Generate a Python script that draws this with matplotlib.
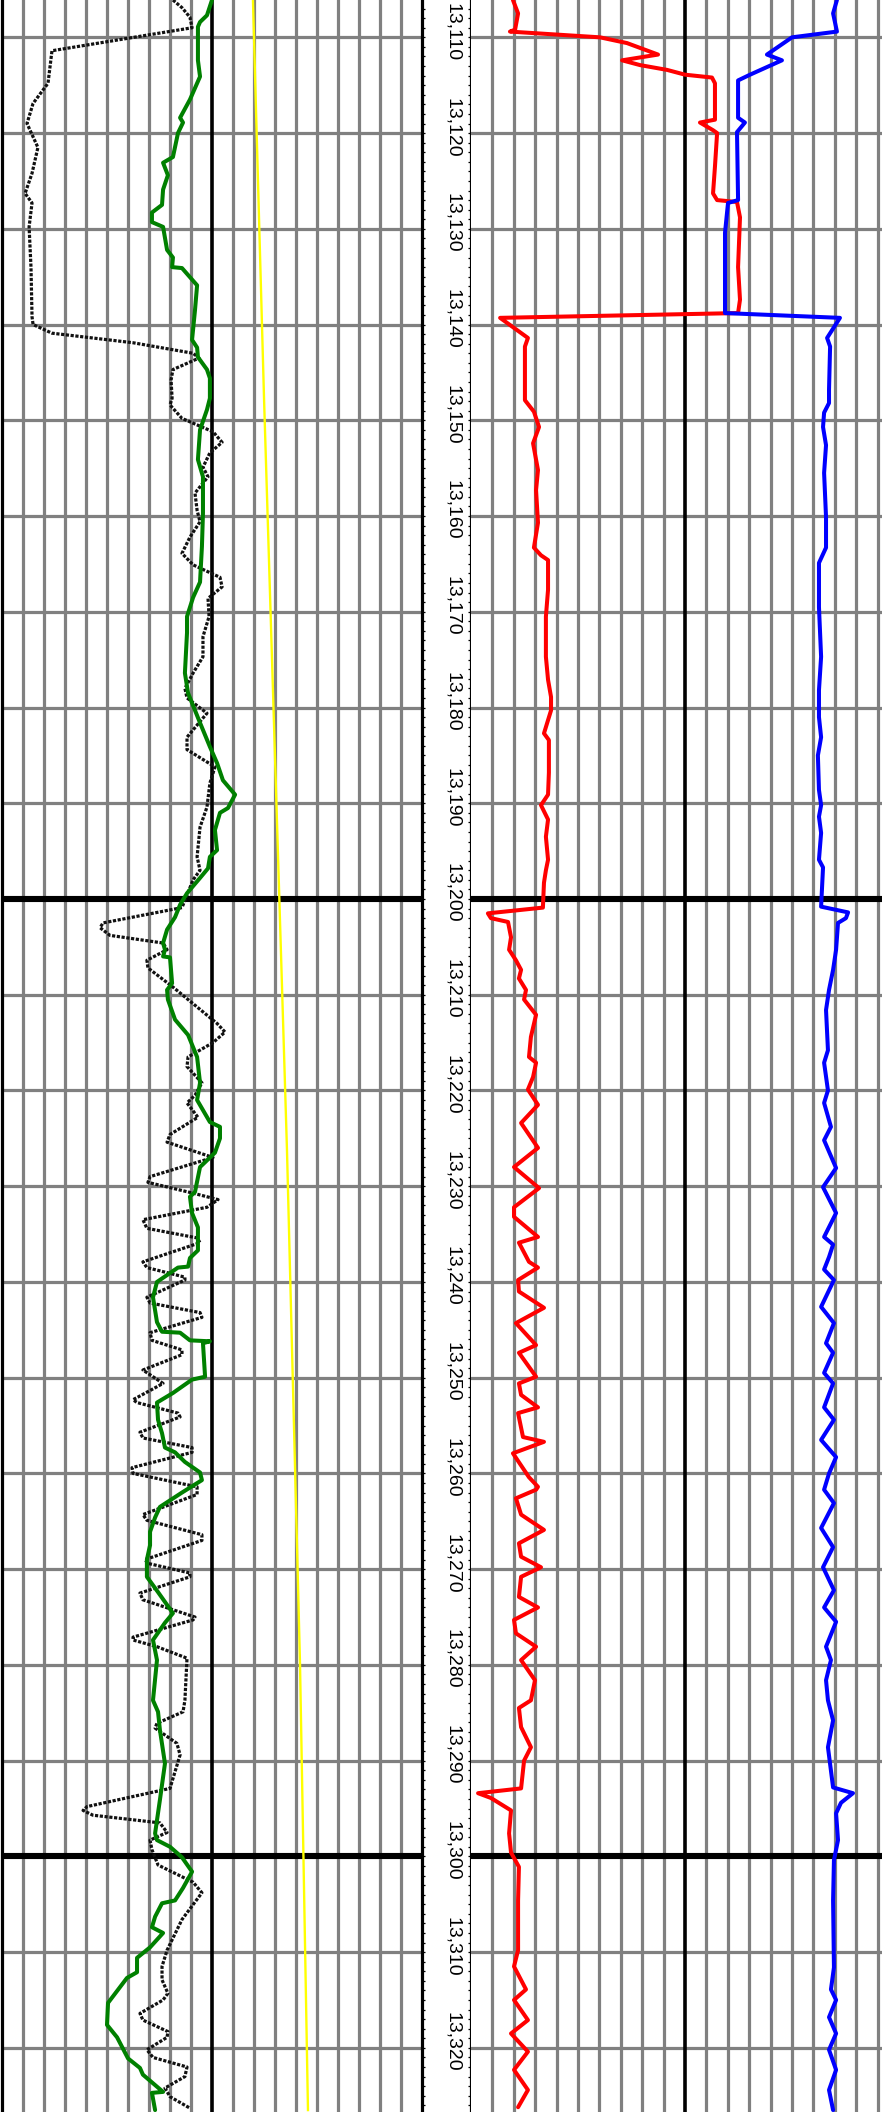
import matplotlib
matplotlib.use("Agg")
import matplotlib.pyplot as plt
from matplotlib.ticker import MultipleLocator

# --------------------------------
# 1. Log data (depth in ft, values in track units 0-200)
# --------------------------------
sp_depth = [13106.1, 13106.9, 13107.9, 13109.0, 13111.4, 13114.8, 13116.9, 13119.0, 13121.5, 13124.2,
            13126.3, 13127.3, 13129.8, 13134.0, 13139.2, 13140.0, 13140.9, 13141.9, 13143.0, 13143.5,
            13144.7, 13145.8, 13147.7, 13148.4, 13149.8, 13151.2, 13152.3, 13153.4, 13154.9, 13155.9,
            13157.6, 13159.4, 13160.6, 13162.2, 13163.9, 13165.1, 13166.4, 13167.4, 13168.6, 13170.5,
            13172.6, 13174.7, 13176.4, 13178.0, 13179.0, 13180.6, 13183.1, 13184.4, 13186.2, 13187.9,
            13190.4, 13192.5, 13195.6, 13197.0, 13198.0, 13200.9, 13202.5, 13203.0, 13203.8, 13204.6,
            13205.3, 13206.4, 13207.2, 13209.2, 13213.0, 13213.9, 13215.0, 13216.5, 13217.5, 13219.2,
            13220.5, 13221.3, 13222.8, 13224.6, 13225.4, 13227.0, 13229.0, 13229.6, 13230.7, 13231.4,
            13232.2, 13233.5, 13234.4, 13235.4, 13235.9, 13237.9, 13238.5, 13239.5, 13239.8, 13241.6,
            13242.2, 13243.2, 13243.7, 13245.3, 13246.1, 13247.1, 13247.6, 13249.2, 13250.6, 13252.3,
            13252.6, 13253.7, 13254.1, 13255.7, 13256.3, 13257.3, 13257.8, 13259.4, 13260.0, 13261.4,
            13262.2, 13264.3, 13264.9, 13266.4, 13267.0, 13269.0, 13269.4, 13270.4, 13270.8, 13272.5,
            13273.2, 13275.0, 13275.3, 13277.1, 13277.4, 13278.1, 13279.3, 13283.7, 13284.9, 13286.1,
            13286.6, 13288.2, 13289.4, 13292.9, 13294.8, 13295.2, 13295.7, 13296.5, 13297.5, 13298.3,
            13299.3, 13300.9, 13302.7, 13303.8, 13305.9, 13306.6, 13309.8, 13311.5, 13312.9, 13314.3,
            13315.0, 13316.4, 13317.1, 13318.3, 13318.9, 13320.2, 13321.0, 13322.0, 13323.0, 13324.2,
            13325.1, 13326.3]
sp_val = [81.4, 85.7, 89.5, 90.5, 23.8, 21.9, 14.8, 11.9, 17.1, 14.3,
          11.0, 14.3, 12.9, 13.8, 14.3, 14.8, 23.8, 62.4, 91.0, 93.8,
          81.4, 80.5, 81.0, 80.0, 85.7, 100.5, 104.8, 99.0, 95.7, 98.1,
          91.9, 92.9, 94.3, 89.5, 85.7, 91.0, 103.8, 104.8, 98.1, 98.6,
          95.7, 95.7, 91.0, 87.1, 88.1, 97.6, 88.1, 88.1, 101.4, 99.0,
          97.6, 94.3, 92.9, 94.3, 91.0, 85.7, 48.1, 46.7, 51.4, 76.7,
          78.6, 69.0, 69.5, 81.4, 102.4, 106.2, 100.5, 88.6, 88.1, 95.2,
          91.9, 88.1, 93.3, 80.0, 78.6, 100.5, 70.5, 69.5, 90.5, 102.9,
          97.6, 67.1, 69.0, 92.9, 94.3, 67.1, 69.0, 87.1, 87.1, 69.0,
          70.5, 94.3, 95.2, 70.5, 71.4, 85.7, 85.7, 67.1, 76.7, 62.4,
          64.3, 83.8, 84.8, 65.7, 67.1, 90.5, 90.5, 61.9, 62.4, 92.9,
          92.9, 67.1, 69.0, 95.2, 95.2, 68.1, 69.5, 89.5, 89.5, 65.7,
          67.1, 91.9, 91.0, 62.4, 62.4, 73.8, 88.1, 87.1, 86.2, 73.8,
          72.9, 83.3, 84.8, 80.0, 40.5, 38.6, 43.3, 75.2, 78.6, 70.5,
          71.4, 74.3, 91.0, 95.2, 88.1, 85.7, 78.6, 76.2, 76.2, 79.0,
          76.7, 65.7, 67.1, 79.0, 78.6, 69.0, 71.9, 88.1, 87.1, 77.6,
          80.0, 89.5]

gr_depth = [13106.1, 13107.7, 13108.4, 13108.9, 13112.4, 13114.1, 13114.8, 13116.5, 13118.4, 13118.9,
            13120.0, 13122.5, 13123.1, 13124.4, 13125.9, 13127.5, 13128.3, 13129.3, 13129.8, 13132.2,
            13133.0, 13134.0, 13134.1, 13135.9, 13138.5, 13141.6, 13142.4, 13143.4, 13144.7, 13145.6,
            13147.7, 13148.9, 13151.0, 13154.1, 13155.9, 13159.7, 13163.2, 13166.9, 13168.5, 13170.5,
            13172.2, 13176.4, 13178.5, 13181.6, 13184.1, 13185.8, 13187.6, 13189.1, 13190.5, 13191.0,
            13192.8, 13194.9, 13195.6, 13196.8, 13197.8, 13199.4, 13200.6, 13201.9, 13203.2, 13204.6,
            13205.3, 13206.0, 13206.1, 13208.8, 13209.5, 13210.5, 13212.6, 13214.2, 13216.5, 13219.2,
            13221.0, 13223.3, 13223.8, 13225.0, 13226.5, 13228.0, 13230.6, 13231.1, 13232.8, 13234.3,
            13236.7, 13237.5, 13238.4, 13238.5, 13240.0, 13241.6, 13244.2, 13245.2, 13245.3, 13246.1,
            13246.2, 13246.4, 13249.9, 13250.2, 13251.6, 13252.6, 13254.4, 13255.8, 13257.3, 13257.8,
            13258.8, 13259.9, 13260.7, 13262.0, 13263.5, 13264.6, 13266.1, 13267.5, 13269.0, 13270.8,
            13272.4, 13274.6, 13275.6, 13277.4, 13279.5, 13283.7, 13284.9, 13286.8, 13290.3, 13294.1,
            13297.6, 13298.3, 13299.0, 13300.1, 13301.6, 13303.3, 13304.6, 13304.9, 13306.3, 13307.4,
            13308.0, 13309.5, 13310.6, 13312.1, 13312.7, 13315.3, 13317.6, 13318.9, 13321.1, 13322.1,
            13322.8, 13323.7, 13324.6, 13324.7, 13326.5]
gr_val = [100.0, 97.6, 94.3, 93.3, 93.3, 94.3, 92.9, 89.5, 84.8, 86.2,
          83.8, 81.4, 76.7, 79.0, 76.7, 76.2, 71.4, 71.4, 76.7, 78.6,
          81.4, 81.0, 85.7, 92.9, 91.9, 90.5, 92.9, 93.3, 97.6, 99.0,
          99.0, 97.6, 94.3, 93.3, 95.7, 95.7, 95.2, 94.3, 91.0, 88.1,
          88.1, 87.1, 88.6, 94.3, 99.0, 102.4, 105.2, 111.0, 107.6, 103.8,
          101.4, 102.4, 99.0, 98.1, 94.3, 88.1, 84.8, 82.4, 78.6, 76.7,
          77.6, 76.7, 80.0, 81.0, 78.6, 79.0, 82.4, 88.6, 92.9, 94.3,
          92.9, 99.0, 103.8, 103.8, 101.4, 94.3, 91.9, 89.5, 90.5, 93.3,
          93.3, 89.5, 88.6, 83.8, 73.8, 71.9, 73.8, 76.2, 84.8, 89.5,
          99.0, 95.7, 96.7, 90.5, 81.4, 73.8, 74.3, 76.2, 77.6, 82.4,
          87.1, 94.3, 95.2, 85.7, 75.2, 72.9, 70.5, 70.5, 69.0, 69.0,
          74.3, 81.4, 77.6, 71.9, 73.8, 71.9, 74.3, 75.2, 77.6, 75.2,
          72.9, 73.8, 80.0, 85.7, 90.5, 86.2, 82.4, 76.2, 72.9, 71.4,
          76.7, 70.5, 64.3, 64.3, 59.5, 50.5, 50.0, 54.8, 60.0, 65.7,
          67.1, 71.9, 76.7, 71.4, 72.9]

cal_depth = [13106.1, 13147.9, 13195.2, 13226.2, 13279.8, 13326.5]
cal_val = [119.5, 124.8, 131.4, 135.7, 141.9, 145.7]

rhob_depth = [13106.1, 13107.5, 13109.2, 13109.4, 13110.0, 13110.6, 13111.8, 13112.4, 13112.9, 13113.4,
              13113.9, 13114.2, 13114.8, 13118.6, 13118.9, 13119.7, 13120.0, 13123.5, 13126.3, 13127.0,
              13127.2, 13128.8, 13134.0, 13137.4, 13138.8, 13139.3, 13141.4, 13142.3, 13147.9, 13149.1,
              13150.7, 13152.4, 13155.2, 13157.3, 13160.7, 13163.3, 13164.1, 13164.6, 13167.7, 13170.5,
              13174.7, 13177.1, 13178.9, 13180.3, 13182.7, 13183.4, 13186.8, 13189.1, 13190.2, 13191.7,
              13193.5, 13195.9, 13197.0, 13198.3, 13200.9, 13201.5, 13202.0, 13202.4, 13204.0, 13205.3,
              13206.4, 13207.4, 13208.3, 13209.5, 13210.5, 13212.1, 13214.4, 13216.5, 13217.1, 13218.6,
              13219.9, 13221.5, 13223.4, 13226.0, 13228.0, 13230.2, 13232.2, 13233.2, 13235.3, 13235.9,
              13237.9, 13238.5, 13239.8, 13241.0, 13242.7, 13244.3, 13246.6, 13247.4, 13249.9, 13250.6,
              13251.8, 13253.1, 13253.7, 13256.2, 13256.7, 13257.9, 13260.4, 13261.4, 13261.7, 13262.6,
              13264.3, 13265.9, 13267.3, 13268.7, 13269.8, 13270.8, 13272.9, 13274.0, 13275.3, 13276.7,
              13278.1, 13279.5, 13281.6, 13283.7, 13284.5, 13286.5, 13288.6, 13290.0, 13292.9, 13293.4,
              13293.9, 13295.2, 13297.6, 13299.6, 13301.1, 13304.6, 13309.8, 13311.5, 13313.9, 13315.0,
              13317.1, 13318.5, 13320.4, 13322.3, 13324.4, 13326.2]
rhob_val = [19.6, 22.0, 20.6, 18.2, 60.3, 72.9, 87.4, 70.6, 79.0, 91.6,
            100.0, 112.6, 114.0, 114.0, 107.0, 113.1, 115.0, 114.0, 113.1, 115.0,
            124.3, 125.7, 124.8, 125.7, 124.8, 13.6, 26.6, 25.2, 25.2, 29.4,
            31.8, 29.0, 31.3, 30.4, 31.3, 29.4, 32.7, 36.0, 36.0, 35.0,
            35.0, 36.0, 37.4, 37.4, 34.1, 36.4, 36.4, 36.0, 32.7, 36.0,
            35.0, 36.0, 35.0, 34.1, 33.6, 7.9, 9.3, 17.3, 18.7, 17.8,
            21.0, 23.4, 22.4, 25.7, 24.8, 30.4, 28.0, 27.1, 30.4, 29.0,
            26.6, 31.3, 23.4, 31.3, 20.1, 31.8, 20.1, 20.1, 31.3, 22.4,
            27.1, 31.3, 22.0, 22.4, 34.1, 21.0, 30.4, 22.4, 30.4, 22.4,
            23.4, 31.3, 22.0, 24.3, 34.1, 19.6, 27.1, 31.3, 30.4, 21.0,
            23.4, 34.1, 22.4, 23.4, 32.7, 23.4, 22.4, 31.3, 20.1, 21.0,
            30.4, 23.4, 29.9, 28.0, 22.4, 23.4, 28.0, 24.8, 23.4, 3.3,
            9.3, 18.7, 17.8, 18.7, 22.4, 22.0, 22.0, 20.1, 25.7, 20.1,
            26.6, 18.7, 26.6, 20.1, 26.6, 22.0]

nphi_depth = [13106.1, 13107.5, 13109.4, 13110.0, 13111.8, 13112.4, 13113.9, 13114.5, 13118.4, 13118.9,
              13119.9, 13127.0, 13127.3, 13130.4, 13138.8, 13139.3, 13141.4, 13142.3, 13146.8, 13148.2,
              13149.2, 13150.7, 13152.6, 13155.5, 13160.1, 13163.3, 13164.9, 13169.5, 13174.7, 13178.2,
              13181.0, 13183.1, 13185.0, 13188.6, 13190.2, 13191.4, 13193.1, 13195.9, 13196.7, 13200.8,
              13201.4, 13202.0, 13202.5, 13205.3, 13207.4, 13209.5, 13211.6, 13215.8, 13217.1, 13220.0,
              13221.3, 13223.8, 13225.2, 13228.1, 13230.1, 13232.8, 13235.3, 13236.1, 13237.4, 13238.7,
              13239.8, 13242.6, 13244.3, 13246.4, 13247.4, 13249.5, 13250.6, 13253.1, 13254.4, 13256.5,
              13258.3, 13260.0, 13261.7, 13263.1, 13265.7, 13267.7, 13269.8, 13272.2, 13274.0, 13275.5,
              13278.1, 13279.5, 13281.6, 13283.7, 13285.8, 13288.6, 13292.8, 13293.4, 13294.4, 13295.5,
              13298.3, 13300.4, 13304.6, 13311.6, 13313.9, 13315.0, 13316.8, 13318.5, 13320.2, 13322.3,
              13324.4, 13326.5]
nphi_val = [171.0, 169.2, 171.0, 150.0, 138.3, 145.3, 130.4, 124.8, 124.8, 128.0,
            124.3, 124.8, 120.1, 118.7, 118.7, 172.4, 166.4, 167.8, 167.3, 167.3,
            165.0, 164.5, 165.9, 165.0, 165.9, 165.9, 162.6, 162.6, 163.6, 162.6,
            162.6, 163.6, 162.1, 162.6, 163.6, 162.6, 163.6, 162.6, 164.5, 163.6,
            176.2, 175.2, 171.5, 170.6, 169.2, 167.3, 165.9, 166.8, 165.0, 166.8,
            165.0, 168.2, 165.0, 170.6, 164.5, 170.6, 165.0, 169.2, 167.3, 165.0,
            169.6, 163.6, 169.6, 165.9, 169.2, 165.0, 169.2, 165.0, 169.6, 163.6,
            170.6, 167.3, 165.0, 169.6, 163.6, 169.2, 164.5, 169.6, 165.0, 170.6,
            165.9, 168.2, 165.9, 166.8, 169.2, 166.8, 169.2, 178.5, 172.9, 170.6,
            171.5, 169.6, 169.2, 169.6, 168.2, 170.6, 167.3, 170.6, 167.3, 170.6,
            167.3, 169.2]

top_depth, bottom_depth = 13106.1, 13326.7
depth_labels = list(range(13110, 13330, 10))

# --------------------------------
# 2. Layout: left track | depth track | right track (runs off the page)
# --------------------------------
W, H = 882, 2112
fig = plt.figure(figsize=(W / 100, H / 100), dpi=100)
ax_l = fig.add_axes([2 / W, 0, 420 / W, 1])
ax_d = fig.add_axes([422 / W, 0, 49 / W, 1])
ax_r = fig.add_axes([471 / W, 0, 428 / W, 1])

grid_gray = '#808080'
for ax in (ax_l, ax_r):
    ax.set_xlim(0, 200)
    ax.set_ylim(bottom_depth, top_depth)
    ax.set_xticks([])
    ax.set_yticks([])
    for s in ('top', 'bottom', 'right'):
        ax.spines[s].set_visible(False)
    ax.spines['left'].set_linewidth(2.3)
    # vertical grid, dark line in the middle
    for v in range(10, 200, 10):
        if v == 100:
            ax.axvline(v, color='black', lw=2.6, zorder=2)
        else:
            ax.axvline(v, color=grid_gray, lw=2.3, zorder=1)
    # depth grid, heavy every 100 ft
    for d in depth_labels:
        if d % 100 == 0:
            ax.axhline(d, color='black', lw=4.4, zorder=2)
        else:
            ax.axhline(d, color=grid_gray, lw=2.3, zorder=1)

ax_r.spines['left'].set_visible(False)

# --------------------------------
# 3. Curves
# --------------------------------
ax_l.plot(cal_val, cal_depth, color='#ffff00', lw=1.7, zorder=3)
ax_l.plot(sp_val, sp_depth, color='#111111', lw=2.3, linestyle=(0, (1.0, 0.5)),
          zorder=4)
ax_l.plot(gr_val, gr_depth, color='#008000', lw=2.9, zorder=5,
          solid_joinstyle='round', solid_capstyle='round')

ax_r.plot(rhob_val, rhob_depth, color='#ff0000', lw=2.9, zorder=4,
          solid_joinstyle='round', solid_capstyle='round')
ax_r.plot(nphi_val, nphi_depth, color='#0000ff', lw=2.9, zorder=4,
          solid_joinstyle='round', solid_capstyle='round')

# --------------------------------
# 4. Depth track
# --------------------------------
ax_d.set_xlim(0, 1)
ax_d.set_ylim(bottom_depth, top_depth)
ax_d.set_xticks([])
for s in ('top', 'bottom'):
    ax_d.spines[s].set_visible(False)
for s in ('left', 'right'):
    ax_d.spines[s].set_linewidth(2.3)
ax_d.yaxis.set_major_locator(MultipleLocator(1))
ax_d.tick_params(axis='y', which='both', left=True, right=True, direction='in',
                 length=2.5, width=0.9, labelleft=False, labelright=False)
for d in depth_labels:
    ax_d.text(0.63, d - 0.6, f"{d:,}", rotation=-90, ha='center', va='center',
              fontsize=14, family=['Liberation Sans', 'DejaVu Sans'])

fig.savefig('out.png', dpi=100)
